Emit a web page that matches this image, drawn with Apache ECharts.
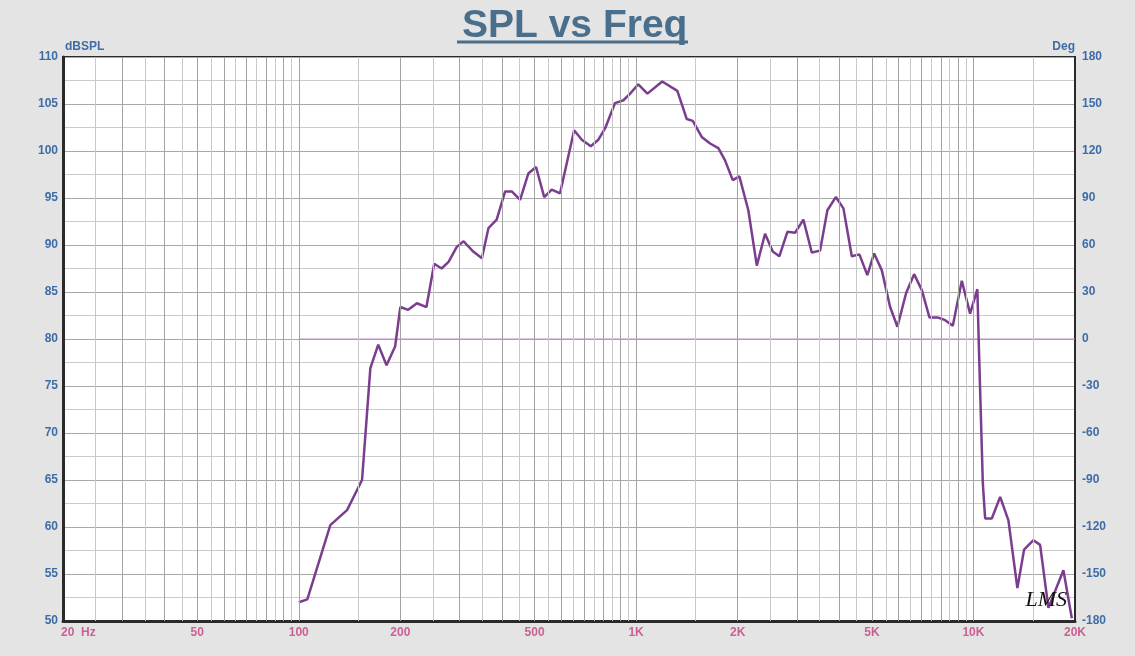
<!DOCTYPE html>
<html>
<head>
<meta charset="utf-8">
<script src="https://cdn.jsdelivr.net/npm/echarts@6/dist/echarts.min.js"></script>
<style>
  html, body { margin: 0; padding: 0; background: #e4e4e4; }
  #chart { width: 1135px; height: 656px; }
</style>
</head>
<body>
<div id="chart"></div>
<script>
// SPL response
const freqHz = [100, 106, 124, 139, 154, 163, 172, 182, 193, 200, 211, 224, 239, 252, 265, 278, 294, 308, 329, 349,
  365, 386, 409, 428, 453, 479, 505, 534, 562, 595, 655, 690, 734, 773, 809, 866, 917, 960, 1015, 1080,
  1195, 1325, 1413, 1472, 1565, 1657, 1753, 1835, 1934, 2023, 2151, 2279, 2411, 2541, 2658, 2808, 2960, 3132, 3317, 3510,
  3690, 3908, 4117, 4359, 4590, 4847, 5076, 5351, 5662, 5951, 6316, 6670, 7030, 7405, 7820, 8244, 8686, 9236, 9773, 10270,
  10390, 10660, 10830, 11335, 12000, 12695, 13497, 14130, 15060, 15760, 16680, 18480, 19570]
const splDb = [52.0, 52.3, 60.2, 61.8, 65.0, 76.9, 79.4, 77.2, 79.2, 83.4, 83.1, 83.8, 83.4, 88.0, 87.5, 88.2, 89.8, 90.4, 89.3, 88.6,
  91.8, 92.7, 95.7, 95.7, 94.8, 97.6, 98.3, 95.1, 95.9, 95.5, 102.2, 101.2, 100.5, 101.2, 102.4, 105.1, 105.4, 106.1, 107.1, 106.1,
  107.4, 106.4, 103.4, 103.2, 101.5, 100.8, 100.3, 99.0, 96.9, 97.3, 93.7, 87.8, 91.2, 89.3, 88.8, 91.4, 91.3, 92.7, 89.2, 89.4,
  93.7, 95.1, 93.9, 88.8, 89.0, 86.8, 89.1, 87.3, 83.4, 81.3, 84.9, 86.9, 85.2, 82.3, 82.3, 82.0, 81.4, 86.2, 82.7, 85.3,
  78.5, 64.7, 60.9, 60.9, 63.2, 60.7, 53.5, 57.6, 58.6, 58.1, 51.4, 55.4, 50.3]

// phase trace (flat at 0 deg)
const phaseFreq = [100, 20000]
const phaseDeg = [0, 0]

// x tick labels
const labelFreqs = [20, 50, 100, 200, 500, 1000, 2000, 5000, 10000, 20000]
const labelTexts = ['20  Hz', '50', '100', '200', '500', '1K', '2K', '5K', '10K', '20K']

// vertical grid lines
const majorGrid = [30, 40, 50, 60, 70, 80, 90, 100, 200, 300, 400, 500, 600, 700, 800, 900, 1000,
  2000, 3000, 4000, 5000, 6000, 7000, 8000, 9000, 10000]
const minorGrid = [25, 35, 45, 55, 65, 75, 85, 95, 150, 250, 350, 450, 550, 650, 750, 850, 950,
  1500, 2500, 3500, 4500, 5500, 6500, 7500, 8500, 9500, 15000]

const chart = echarts.init(document.getElementById('chart'))

function gridSeries(name, freqs, color) {
  return {
    name,
    type: 'line',
    data: [],
    z: 1,
    silent: true,
    markLine: {
      silent: true,
      symbol: ['none', 'none'],
      label: { show: false },
      lineStyle: { color, width: 1, type: 'solid' },
      emphasis: { disabled: true },
      animation: false,
      data: freqs.map((f) => ({ xAxis: f })),
    },
  }
}

const blue = '#3d6ca6'
const pink = '#c43f7e'
const font = 'Liberation Sans, Arial, sans-serif'

chart.setOption({
  backgroundColor: '#e4e4e4',
  animation: false,
  title: {
    text: 'SPL vs Freq',
    left: 457,
    top: 2,
    textStyle: {
      fontFamily: font,
      fontWeight: 'bold',
      fontSize: 39,
      color: '#4a6f8c',
    },
  },
  graphic: [
    {
      type: 'line',
      shape: { x1: 457, y1: 42, x2: 688, y2: 42 },
      style: { stroke: '#4a6f8c', lineWidth: 3 },
    },
    {
      type: 'text',
      right: 68,
      bottom: 45,
      style: {
        text: 'LMS',
        font: 'italic 22px "Liberation Serif", serif',
        fill: '#111',
      },
      z: 10,
    },
  ],
  grid: {
    left: 63,
    right: 60,
    top: 57,
    bottom: 35,
    show: true,
    backgroundColor: '#ffffff',
    borderColor: '#2a2a2a',
    borderWidth: 2,
  },
  xAxis: {
    type: 'log',
    logBase: 10,
    min: 20,
    max: 20000,
    axisLine: { show: true, onZero: false, lineStyle: { color: '#2a2a2a', width: 3 } },
    axisTick: { show: false },
    axisLabel: { show: false },
    splitLine: { show: false },
  },
  yAxis: [
    {
      type: 'value',
      min: 50,
      max: 110,
      interval: 5,
      name: 'dBSPL',
      nameLocation: 'end',
      nameGap: 4,
      nameTextStyle: { color: blue, fontSize: 12, fontWeight: 'bold', align: 'left', fontFamily: font, padding: [0, 0, 0, 2] },
      axisLine: { show: true, onZero: false, lineStyle: { color: '#2a2a2a', width: 3 } },
      axisTick: { show: false },
      axisLabel: { color: blue, fontSize: 12, fontWeight: 'bold', margin: 5, fontFamily: font },
      splitLine: { show: true, lineStyle: { color: '#a8a8a8', width: 1 } },
      minorTick: { show: false, splitNumber: 2 },
      minorSplitLine: { show: true, lineStyle: { color: '#cbcbcb', width: 1 } },
    },
    {
      type: 'value',
      min: -180,
      max: 180,
      interval: 30,
      name: 'Deg',
      nameLocation: 'end',
      nameGap: 4,
      nameTextStyle: { color: blue, fontSize: 12, fontWeight: 'bold', align: 'right', fontFamily: font },
      axisLine: { show: true, onZero: false, lineStyle: { color: '#2a2a2a', width: 2 } },
      axisTick: { show: false },
      axisLabel: { color: blue, fontSize: 12, fontWeight: 'bold', margin: 7, fontFamily: font },
      splitLine: { show: false },
    },
  ],
  series: [
    gridSeries('major', majorGrid, '#a2a2a2'),
    gridSeries('minor', minorGrid, '#c8c8c8'),
    {
      name: 'Phase',
      type: 'line',
      yAxisIndex: 1,
      z: 2,
      silent: true,
      symbol: 'none',
      lineStyle: { color: '#b98bc9', width: 1 },
      data: phaseFreq.map((f, i) => [f, phaseDeg[i]]),
    },
    {
      name: 'SPL',
      type: 'line',
      z: 3,
      symbol: 'none',
      clip: false,
      lineStyle: { color: '#7b3d8e', width: 2.5 },
      data: freqHz.map((f, i) => [f, splDb[i]]),
    },
    {
      name: 'xLabels',
      type: 'scatter',
      silent: true,
      clip: false,
      symbolSize: 0,
      data: labelFreqs.map((f, i) => ({
        value: [f, 50],
        label: i === 0 ? { align: 'left', offset: [-2, 0] } : {},
      })),
      label: {
        show: true,
        position: 'bottom',
        distance: 6,
        color: pink,
        fontSize: 12,
        fontWeight: 'bold',
        fontFamily: font,
        formatter: (p) => labelTexts[p.dataIndex],
      },
    },
  ],
})
</script>
</body>
</html>
